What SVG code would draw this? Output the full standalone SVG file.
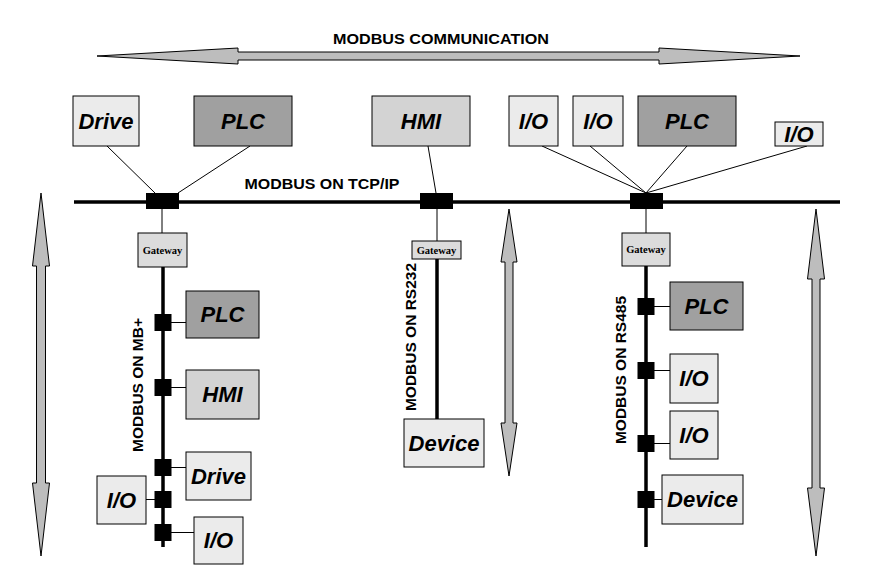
<svg xmlns="http://www.w3.org/2000/svg" width="875" height="580" viewBox="0 0 875 580">
<style>
.bg{fill:#ffffff}
.lt{fill:#ebebeb;stroke:#000;stroke-width:1}
.md{fill:#d3d3d3;stroke:#000;stroke-width:1}
.dk{fill:#a0a0a0;stroke:#000;stroke-width:1}
.gw{fill:#dcdcdc;stroke:#000;stroke-width:1}
.lbl{font-family:"Liberation Sans",Arial,sans-serif;font-weight:bold;font-style:italic;font-size:22px;text-anchor:middle;fill:#000}
.gwt{font-family:"Liberation Serif","Times New Roman",serif;font-weight:bold;font-size:10.5px;text-anchor:middle;fill:#000}
.cap{font-family:"Liberation Sans",Arial,sans-serif;font-weight:bold;font-size:15.5px;text-anchor:middle;fill:#000}
.thin{stroke:#000;stroke-width:1;fill:none}
.bus{stroke:#000;stroke-width:3.5;fill:none}
.blk{fill:#000}
.arr{fill:#bdbdbd;stroke:#000;stroke-width:1}
</style>
<rect class="bg" x="0" y="0" width="875" height="580"/>

<g id="arrows">
<polygon class="arr" points="97,56 238,48 238,52 659,52 659,48 800,56 659,64 659,60 238,60 238,64"/>
<polygon class="arr" points="41,193 49.5,266 45.5,266 45.5,483 49.5,483 41,556 32.5,483 36.5,483 36.5,266 32.5,266"/>
<polygon class="arr" points="509,209 517,262 513,262 513,423 517,423 509,476 501,423 505,423 505,262 501,262"/>
<polygon class="arr" points="816,209 824.5,279 820,279 820,488 824.5,488 816,556 807.5,488 812,488 812,279 807.5,279"/>
</g>

<g id="captions">
<text class="cap" x="441" y="44" textLength="216" lengthAdjust="spacingAndGlyphs">MODBUS COMMUNICATION</text>
<text class="cap" x="322" y="189" textLength="155" lengthAdjust="spacingAndGlyphs" style="font-size:14.5px">MODBUS ON TCP/IP</text>
<text class="cap" transform="translate(143,385) rotate(-90)">MODBUS ON MB+</text>
<text class="cap" transform="translate(416,337) rotate(-90)">MODBUS ON RS232</text>
<text class="cap" transform="translate(626,370) rotate(-90)">MODBUS ON RS485</text>
</g>

<g id="connectors">
<line class="bus" x1="74" y1="202" x2="840" y2="202"/>
<line class="bus" x1="163" y1="267" x2="163" y2="547"/>
<line class="bus" x1="437" y1="259" x2="437" y2="419"/>
<line class="bus" x1="646" y1="266" x2="646" y2="547"/>
<line class="thin" x1="107" y1="146" x2="155" y2="193"/>
<line class="thin" x1="250" y1="146" x2="178" y2="193"/>
<line class="thin" x1="428" y1="146" x2="436" y2="193"/>
<line class="thin" x1="542" y1="146" x2="646" y2="193"/>
<line class="thin" x1="590" y1="146" x2="646" y2="193"/>
<line class="thin" x1="687" y1="146" x2="646" y2="193"/>
<line class="thin" x1="807" y1="146" x2="646" y2="193"/>
<line class="thin" x1="162" y1="209" x2="162" y2="233"/>
<line class="thin" x1="437" y1="209" x2="437" y2="241"/>
<line class="thin" x1="646" y1="209" x2="646" y2="233"/>
<line class="thin" x1="171" y1="322.5" x2="186" y2="322.5"/>
<line class="thin" x1="171" y1="387.5" x2="186" y2="387.5"/>
<line class="thin" x1="171" y1="467.5" x2="186" y2="467.5"/>
<line class="thin" x1="146" y1="499.5" x2="155" y2="499.5"/>
<line class="thin" x1="171" y1="532.5" x2="194" y2="532.5"/>
<line class="thin" x1="654" y1="306.5" x2="670" y2="306.5"/>
<line class="thin" x1="654" y1="370.5" x2="670" y2="370.5"/>
<line class="thin" x1="654" y1="443.5" x2="670" y2="443.5"/>
<line class="thin" x1="654" y1="499.5" x2="662" y2="499.5"/>
<rect class="blk" x="146" y="193" width="33" height="16"/>
<rect class="blk" x="420" y="193" width="33" height="16"/>
<rect class="blk" x="630" y="193" width="33" height="16"/>
<rect class="blk" x="154.5" y="314" width="17" height="17"/>
<rect class="blk" x="154.5" y="379" width="17" height="17"/>
<rect class="blk" x="154.5" y="459" width="17" height="17"/>
<rect class="blk" x="154.5" y="491" width="17" height="17"/>
<rect class="blk" x="154.5" y="524" width="17" height="17"/>
<rect class="blk" x="637.5" y="298" width="17" height="17"/>
<rect class="blk" x="637.5" y="362" width="17" height="17"/>
<rect class="blk" x="637.5" y="435" width="17" height="17"/>
<rect class="blk" x="637.5" y="491" width="17" height="17"/>
</g>

<g id="top-drive"><rect class="lt" x="73" y="96" width="66" height="50"/><text class="lbl" x="106" y="129">Drive</text></g>
<g id="top-plc"><rect class="dk" x="194" y="96" width="98" height="50"/><text class="lbl" x="243" y="129">PLC</text></g>
<g id="top-hmi"><rect class="md" x="372" y="96" width="98" height="50"/><text class="lbl" x="421" y="129">HMI</text></g>
<g id="top-io1"><rect class="lt" x="509" y="96" width="49" height="50"/><text class="lbl" x="533.5" y="129">I/O</text></g>
<g id="top-io2"><rect class="lt" x="573" y="96" width="50" height="50"/><text class="lbl" x="598" y="129">I/O</text></g>
<g id="top-plc2"><rect class="dk" x="638" y="96" width="98" height="50"/><text class="lbl" x="687" y="129">PLC</text></g>
<g id="top-io3"><rect class="lt" x="775" y="122" width="48" height="24"/><text class="lbl" x="799" y="142">I/O</text></g>

<g id="gw-left"><rect class="gw" x="138" y="233" width="49" height="34"/><text class="gwt" x="162.5" y="253.5">Gateway</text></g>
<g id="gw-mid"><rect class="gw" x="412" y="241" width="49" height="18"/><text class="gwt" x="436.5" y="253.5">Gateway</text></g>
<g id="gw-right"><rect class="gw" x="622" y="233" width="48" height="33"/><text class="gwt" x="646" y="253">Gateway</text></g>

<g id="mb-plc"><rect class="dk" x="186" y="291" width="73" height="47"/><text class="lbl" x="222.5" y="322">PLC</text></g>
<g id="mb-hmi"><rect class="md" x="186" y="370" width="73" height="49"/><text class="lbl" x="222.5" y="402">HMI</text></g>
<g id="mb-drive"><rect class="lt" x="186" y="452" width="65" height="48"/><text class="lbl" x="218.5" y="484">Drive</text></g>
<g id="mb-io1"><rect class="lt" x="97" y="476" width="49" height="48"/><text class="lbl" x="121.5" y="508">I/O</text></g>
<g id="mb-io2"><rect class="lt" x="194" y="517" width="49" height="47"/><text class="lbl" x="218.5" y="548">I/O</text></g>

<g id="rs232-device"><rect class="lt" x="404" y="419" width="80" height="48"/><text class="lbl" x="444" y="451">Device</text></g>

<g id="rs485-plc"><rect class="dk" x="670" y="282" width="73" height="48"/><text class="lbl" x="706.5" y="314">PLC</text></g>
<g id="rs485-io1"><rect class="lt" x="670" y="354" width="48" height="49"/><text class="lbl" x="694" y="386">I/O</text></g>
<g id="rs485-io2"><rect class="lt" x="670" y="411" width="48" height="48"/><text class="lbl" x="694" y="443">I/O</text></g>
<g id="rs485-device"><rect class="lt" x="662" y="475" width="81" height="49"/><text class="lbl" x="702.5" y="507">Device</text></g>
</svg>
